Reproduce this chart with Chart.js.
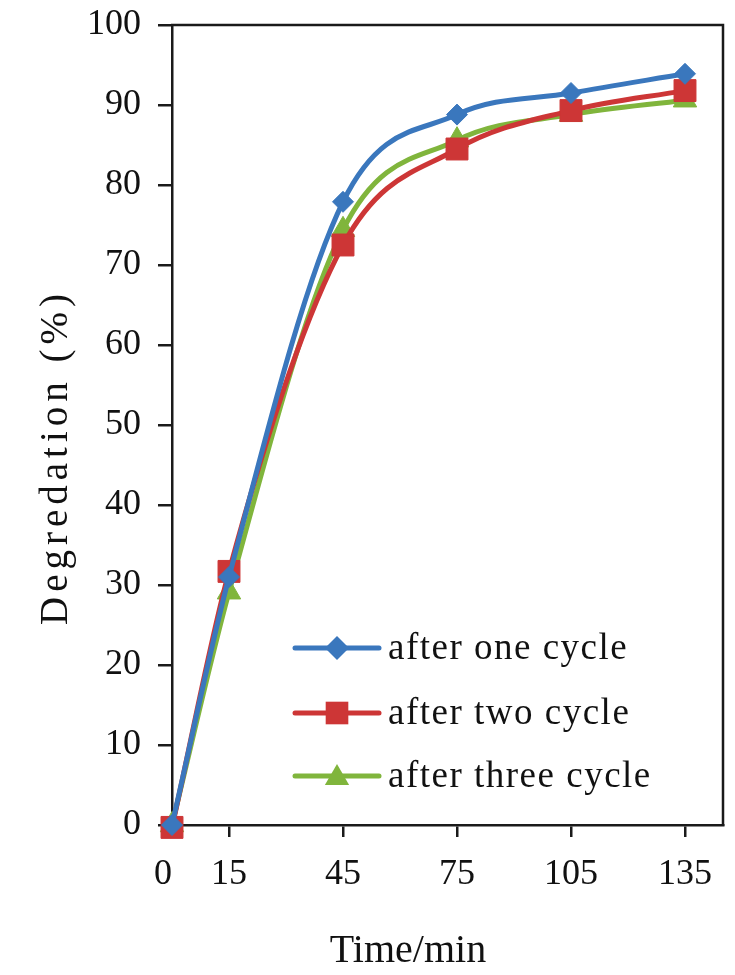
<!DOCTYPE html>
<html>
<head>
<meta charset="utf-8">
<script src="https://cdn.jsdelivr.net/npm/chart.js@4.4.1/dist/chart.umd.min.js"></script>
<style>
  html, body { margin: 0; padding: 0; background: #ffffff; }
  #wrap { width: 735px; height: 975px; }
</style>
</head>
<body>
<div id="wrap"><canvas id="c" width="735" height="975"></canvas></div>
<script>
// ---- data ----
const timeMin = [0, 15, 45, 75, 105, 135];
const xTickValues = [0, 15, 45, 75, 105, 135];
const afterOneCycle = [0, 31, 77.9, 88.8, 91.5, 93.9];
const afterTwoCycle = [-0.3, 31.7, 72.5, 84.5, 89.3, 91.8];
const afterThreeCycle = [0, 29.1, 74.4, 85.6, 88.8, 90.6];
const seriesNames = ['after one cycle', 'after two cycle', 'after three cycle'];
const xTitle = 'Time/min';
const yTitle = 'Degredation (%)';

const BLUE = '#3a77bd';
const RED = '#cd3636';
const GREEN = '#80b53c';
const AXIS = '#1a1a1a';
const FONT = '"Liberation Serif", "Times New Roman", serif';

function pts(vals) { return timeMin.map((t, i) => ({ x: t, y: vals[i] })); }

function markerPath(ctx, style, x, y, r) {
  ctx.beginPath();
  if (style === 'rectRot') {
    ctx.moveTo(x - r, y); ctx.lineTo(x, y - r); ctx.lineTo(x + r, y); ctx.lineTo(x, y + r);
  } else if (style === 'rect') {
    const s = Math.SQRT1_2 * r;
    ctx.rect(x - s, y - s, 2 * s, 2 * s);
  } else {
    ctx.moveTo(x, y - r);
    ctx.lineTo(x + 0.866 * r, y + 0.5 * r);
    ctx.lineTo(x - 0.866 * r, y + 0.5 * r);
  }
  ctx.closePath();
}

const overlay = {
  id: 'overlay',
  beforeDatasetsDraw(chart) {
    const a = chart.chartArea, ctx = chart.ctx;
    ctx.save();
    ctx.strokeStyle = AXIS;
    ctx.lineWidth = 2.5;
    ctx.beginPath();
    ctx.moveTo(a.left - 1, a.top);
    ctx.lineTo(a.right, a.top);
    ctx.lineTo(a.right, a.bottom + 1);
    ctx.stroke();
    ctx.restore();
  },
  afterDraw(chart) {
    const ctx = chart.ctx;
    ctx.save();
    // legend
    const rows = [648, 713, 776];
    chart.data.datasets.forEach((ds, i) => {
      const y = rows[i];
      ctx.strokeStyle = ds.borderColor;
      ctx.lineWidth = 5;
      ctx.lineCap = 'round';
      ctx.beginPath();
      ctx.moveTo(295, y);
      ctx.lineTo(379, y);
      ctx.stroke();
      ctx.fillStyle = ds.borderColor;
      const r = ds.pointStyle === 'rect' ? 16 : (ds.pointStyle === 'triangle' ? 14 : 12);
      markerPath(ctx, ds.pointStyle, 337, ds.pointStyle === 'triangle' ? y + 2 : y, r);
      ctx.fill();
      ctx.fillStyle = '#111111';
      ctx.font = '37px ' + FONT;
      ctx.textAlign = 'left';
      ctx.textBaseline = 'alphabetic';
      try { ctx.letterSpacing = '1.5px'; } catch (e) {}
      ctx.fillText(ds.label, 388, y + 11);
    });
    // x title
    try { ctx.letterSpacing = '0px'; } catch (e) {}
    ctx.fillStyle = '#111111';
    ctx.font = '40px ' + FONT;
    ctx.textAlign = 'center';
    ctx.textBaseline = 'alphabetic';
    ctx.fillText(xTitle, 408, 962);
    // y title
    ctx.translate(67, 459);
    ctx.rotate(-Math.PI / 2);
    ctx.font = '39px ' + FONT;
    try { ctx.letterSpacing = '5px'; } catch (e) {}
    ctx.fillText(yTitle, 2, 0);
    ctx.restore();
  }
};

new Chart(document.getElementById('c'), {
  type: 'line',
  data: {
    datasets: [
      { label: seriesNames[0], data: pts(afterOneCycle), borderColor: BLUE, backgroundColor: BLUE,
        pointStyle: 'rectRot', pointRadius: 10.5 },
      { label: seriesNames[1], data: pts(afterTwoCycle), borderColor: RED, backgroundColor: RED,
        pointStyle: 'rect', pointRadius: 15.5 },
      { label: seriesNames[2], data: pts(afterThreeCycle), borderColor: GREEN, backgroundColor: GREEN,
        pointStyle: 'triangle', pointRadius: 13.5 }
    ].map(d => Object.assign(d, {
      borderWidth: 5, cubicInterpolationMode: 'monotone', pointBorderWidth: 1, pointBorderColor: d.borderColor,
      pointBackgroundColor: d.borderColor, clip: false, fill: false
    }))
  },
  options: {
    responsive: false,
    animation: false,
    devicePixelRatio: 1,
    layout: { autoPadding: false, padding: { top: 25, right: 12, left: 0, bottom: 0 } },
    plugins: { legend: { display: false }, tooltip: { enabled: false } },
    scales: {
      x: {
        type: 'linear', min: 0, max: 145,
        afterBuildTicks: s => { s.ticks = xTickValues.map(v => ({ value: v })); },
        afterFit: s => { s.height = 150; s.paddingLeft = 0; s.paddingRight = 0; },
        grid: { drawOnChartArea: false, drawTicks: true, tickLength: 12, color: AXIS, lineWidth: 2.5 },
        border: { display: true, color: AXIS, width: 2.5 },
        ticks: {
          autoSkip: false, maxRotation: 0, padding: 16, color: '#111111',
          font: { family: FONT, size: 36 },
          callback: v => (v === 0 ? '0\u2002' : String(v))
        }
      },
      y: {
        type: 'linear', min: 0, max: 100,
        afterFit: s => { s.width = 172; s.paddingTop = 0; s.paddingBottom = 0; },
        grid: { drawOnChartArea: false, drawTicks: true, tickLength: 14, color: AXIS, lineWidth: 2.5 },
        border: { display: true, color: AXIS, width: 2.5 },
        ticks: { stepSize: 10, padding: 17, color: '#111111', font: { family: FONT, size: 36 } }
      }
    }
  },
  plugins: [overlay]
});
</script>
</body>
</html>
